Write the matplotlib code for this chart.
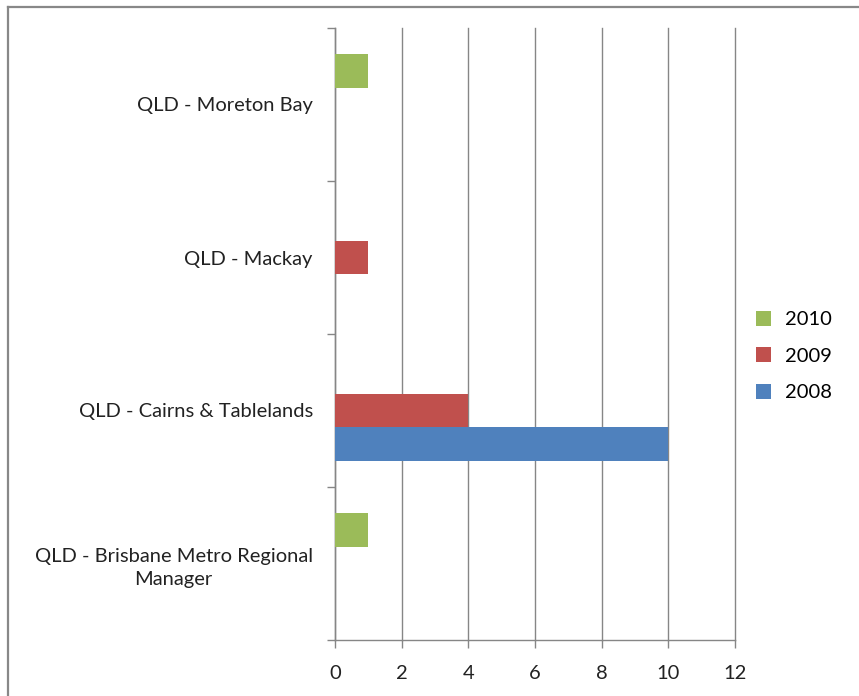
import matplotlib
matplotlib.use('Agg')
import matplotlib.pyplot as plt
from matplotlib.lines import Line2D
import numpy as np

# data
regions = ['QLD - Brisbane Metro Regional\nManager', 'QLD - Cairns & Tablelands',
           'QLD - Mackay', 'QLD - Moreton Bay']
years = ['2008', '2009', '2010']
vals_2008 = [0, 10, 0, 0]
vals_2009 = [0, 4, 1, 0]
vals_2010 = [1, 0, 0, 1]
x_ticks = [0, 2, 4, 6, 8, 10, 12]

COLORS = {'2008': '#4F81BD', '2009': '#C0504D', '2010': '#9BBB59'}
GRID = '#868686'

plt.rcParams['font.family'] = ['Lato', 'DejaVu Sans']

fig = plt.figure(figsize=(8.59, 6.96), dpi=100)
ax = fig.add_axes([335/859, 1 - 640/696, 400/859, 612/696])

y = np.arange(len(regions))
h = 0.222
series = [vals_2008, vals_2009, vals_2010]
for i, (yr, vals) in enumerate(zip(years, series)):
    ax.barh(y + (i - 1) * h, vals, height=h, color=COLORS[yr], label=yr, zorder=3)

ax.set_xlim(0, 12)
ax.set_ylim(-0.5, 3.5)
ax.set_xticks(x_ticks)
ax.set_xticklabels([str(t) for t in x_ticks], fontsize=14.5, color='#222222')
ax.set_yticks(y)
ax.set_yticklabels(regions, fontsize=14.5, color='#222222', multialignment='center',
                   linespacing=1.45)
ax.tick_params(axis='y', length=0, pad=16)
ax.set_yticks(np.arange(-0.5, 4.0, 1.0), minor=True)
ax.tick_params(axis='y', which='minor', length=6, color=GRID, width=1)
ax.tick_params(axis='x', length=6, color=GRID, width=1, pad=12)

ax.grid(axis='x', color=GRID, linewidth=1, zorder=0)
for gl in ax.get_xgridlines():
    gl.set_clip_on(False)
for s in ['top', 'right']:
    ax.spines[s].set_visible(False)
for s in ['left', 'bottom']:
    ax.spines[s].set_color(GRID)
    ax.spines[s].set_linewidth(1)

handles, labels = ax.get_legend_handles_labels()
leg = ax.legend(handles[::-1], labels[::-1], loc='center left',
                bbox_to_anchor=(738/859, 1 - 356/696), bbox_transform=fig.transFigure,
                frameon=False, fontsize=14.5, handlelength=0.75, handleheight=0.75,
                labelspacing=0.95, handletextpad=0.7)

# outer chart frame (top and left only visible)
fig.add_artist(Line2D([8/859, 1], [1 - 7/696, 1 - 7/696], color='#888888', linewidth=1.6,
                      transform=fig.transFigure))
fig.add_artist(Line2D([8/859, 8/859], [0, 1 - 7/696], color='#888888', linewidth=1.6,
                      transform=fig.transFigure))

fig.savefig('out.png', dpi=100)
